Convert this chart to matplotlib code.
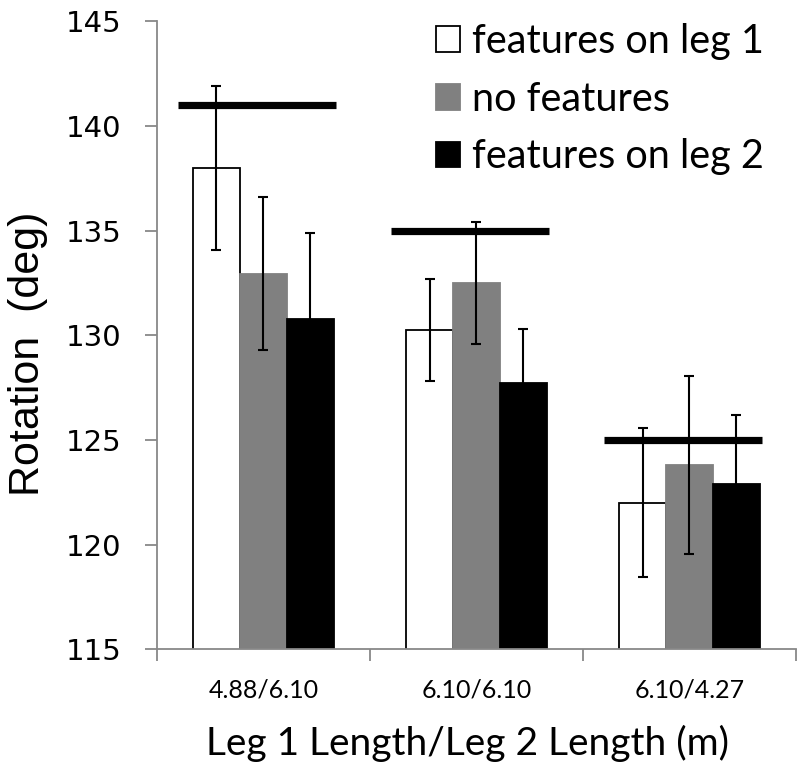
import numpy as np
import matplotlib
matplotlib.use('Agg')
import matplotlib.pyplot as plt

# data
groups = ['4.88/6.10', '6.10/6.10', '6.10/4.27']
series = ['features on leg 1', 'no features', 'features on leg 2']
leg1_mean = [138.0, 130.25, 122.0]
leg1_err = [3.9, 2.45, 3.55]
none_mean = [132.95, 132.5, 123.8]
none_err = [3.65, 2.9, 4.25]
leg2_mean = [130.8, 127.7, 122.9]
leg2_err = [4.1, 2.6, 3.3]
ref_value = [141.0, 135.0, 125.0]

colors = ['white', '#808080', 'black']
edges = ['black', '#808080', 'black']

fig = plt.figure(figsize=(8, 7.63), dpi=100)
ax = fig.add_axes([0.196, 0.149, 0.799, 0.823])

x = np.arange(len(groups)) + 0.5
w = 0.22
means = [leg1_mean, none_mean, leg2_mean]
errs = [leg1_err, none_err, leg2_err]
for i, (m, e) in enumerate(zip(means, errs)):
    ax.bar(x + (i - 1) * w, m, width=w, bottom=0, color=colors[i],
           edgecolor=edges[i], linewidth=1.3, label=series[i], zorder=2)
    ax.errorbar(x + (i - 1) * w, m, yerr=e, fmt='none', ecolor='black',
                elinewidth=1.5, capsize=3.8, capthick=1.5, zorder=3)

# reference lines over each group
ax.hlines(ref_value, x - 0.40, x + 0.34, colors='black', linewidth=5.2, zorder=4)

ax.set_ylim(115, 145)
ax.set_yticks(np.arange(115, 146, 5))
ax.set_xlim(0, 3)
ax.set_xticks([0, 1, 2, 3])
ax.set_xticklabels([])
ax.set_xticks(x, minor=True)
ax.set_xticklabels(groups, minor=True, fontsize=18, family='Lato')
ax.tick_params(axis='x', which='minor', length=0, pad=21)
ax.tick_params(axis='x', which='major', length=8.6, color='#888888', width=1.3)
ax.tick_params(axis='y', length=8.6, color='#888888', width=1.3, pad=17,
               labelsize=21)

for s in ['top', 'right']:
    ax.spines[s].set_visible(False)
for s in ['left', 'bottom']:
    ax.spines[s].set_color('#888888')
    ax.spines[s].set_linewidth(1.3)

ax.set_ylabel('Rotation  (deg)', fontsize=31, family='Liberation Sans')
ax.yaxis.set_label_coords(-0.17, 0.47)
ax.set_xlabel('Leg 1 Length/Leg 2 Length (m)', fontsize=28, family='Lato')
ax.xaxis.set_label_coords(0.486, -0.12)

leg = ax.legend(loc='upper right', frameon=False,
                prop={'family': 'Lato', 'size': 28.5},
                handlelength=0.62, handleheight=0.62, handletextpad=0.3,
                labelspacing=0.52, borderpad=0, borderaxespad=0,
                bbox_to_anchor=(0.95, 0.997))

fig.savefig('out.png', dpi=100)
